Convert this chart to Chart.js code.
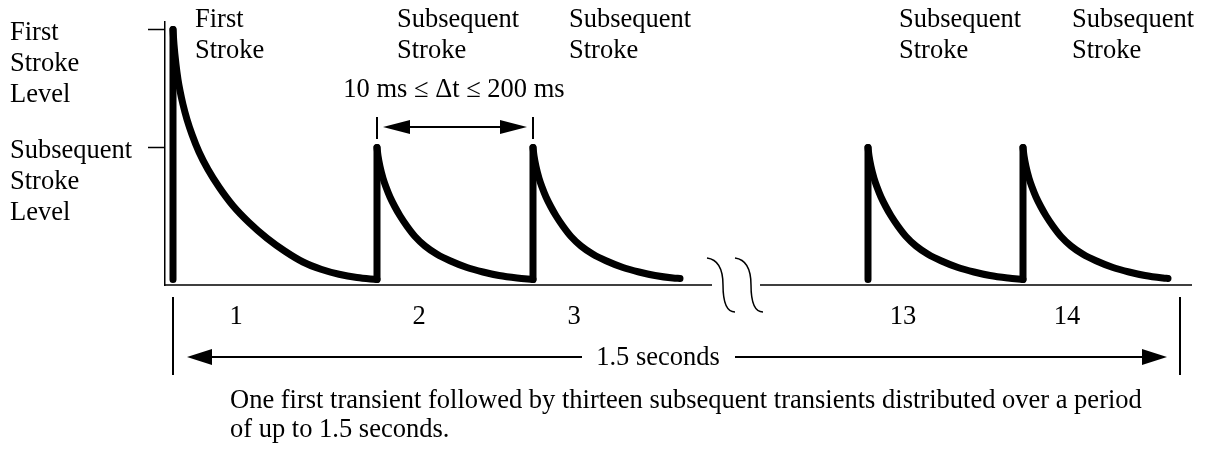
<!DOCTYPE html>
<html>
<head>
<meta charset="utf-8">
<script src="https://cdn.jsdelivr.net/npm/chart.js@4"></script>
<style>
  html, body { margin: 0; padding: 0; background: #fff; }
</style>
</head>
<body>
<canvas id="strokeChart" width="1208" height="449"></canvas>
<script>
// Lightning stroke train (time in arbitrary diagram units, amplitude relative to first stroke)
const strokeNumbers = ['1', '2', '3', '13', '14'];
const strokeLabelPos = [71, 254, 409, 738, 902];
const onsets = [8, 212, 368, 703, 858];
const peaks = [1.0, 0.528, 0.528, 0.528, 0.528];

const levelValues = [1.0, 0.528];
const levelLabels = [['First', 'Stroke', 'Level'], ['Subsequent', 'Stroke', 'Level']];

// decay tails
const decay1X = [8, 9, 11, 13, 15, 18, 22, 27, 34, 43, 54, 68, 84, 102, 120, 138, 156, 174, 192, 212];
const decay1Y = [1.0, 0.94, 0.86, 0.80, 0.755, 0.70, 0.64, 0.58, 0.51, 0.44, 0.37, 0.295, 0.228, 0.165, 0.113, 0.07, 0.041, 0.021, 0.008, 0];
const decay2X = [212, 213, 215, 218, 221, 225, 230, 235, 242, 250, 260, 272, 285, 302, 318, 334, 352, 368];
const decay2Y = [0.528, 0.495, 0.452, 0.405, 0.37, 0.33, 0.29, 0.255, 0.213, 0.172, 0.134, 0.101, 0.075, 0.048, 0.03, 0.016, 0.006, 0];
const decay3X = [368, 369, 371, 374, 377, 381, 386, 391, 398, 406, 416, 428, 441, 458, 474, 490, 508, 515];
const decay3Y = [0.528, 0.495, 0.452, 0.405, 0.37, 0.33, 0.29, 0.255, 0.213, 0.172, 0.134, 0.101, 0.075, 0.048, 0.03, 0.016, 0.006, 0.004];
const decay13X = [703, 704, 706, 709, 712, 716, 721, 726, 733, 741, 751, 763, 776, 793, 809, 825, 843, 858];
const decay13Y = [0.528, 0.495, 0.452, 0.405, 0.37, 0.33, 0.29, 0.255, 0.213, 0.172, 0.134, 0.101, 0.075, 0.048, 0.03, 0.016, 0.006, 0];
const decay14X = [858, 859, 861, 864, 867, 871, 876, 881, 888, 896, 906, 918, 931, 948, 964, 980, 998, 1003];
const decay14Y = [0.528, 0.495, 0.452, 0.405, 0.37, 0.33, 0.29, 0.255, 0.213, 0.172, 0.134, 0.101, 0.075, 0.048, 0.03, 0.016, 0.006, 0.004];

const axisBreak = [547, 595];
const periodEnd = 1015;

const FONT = '"Liberation Serif", "Times New Roman", serif';
const FSIZE = 26.5;

function toPoints(xs, ys) {
  return xs.map((x, i) => ({ x: x, y: ys[i] }));
}

const risePoints = [];
onsets.forEach((x, i) => {
  risePoints.push({ x: x, y: 0 }, { x: x, y: peaks[i] }, { x: x, y: null });
});

const lineStyle = {
  borderColor: '#000',
  borderWidth: 7,
  borderCapStyle: 'round',
  borderJoinStyle: 'round',
  pointRadius: 0,
  fill: false
};

const decays = [[decay1X, decay1Y], [decay2X, decay2Y], [decay3X, decay3Y], [decay13X, decay13Y], [decay14X, decay14Y]];

const datasets = [
  Object.assign({ label: 'rise', data: risePoints, tension: 0, spanGaps: false }, lineStyle)
];
decays.forEach((d, i) => {
  datasets.push(Object.assign({
    label: 'Stroke ' + strokeNumbers[i],
    data: toPoints(d[0], d[1]),
    cubicInterpolationMode: 'monotone'
  }, lineStyle));
});

function text(ctx, s, x, y, align) {
  ctx.textAlign = align || 'left';
  ctx.fillText(s, x, y);
}

function arrowHead(ctx, tipX, y, dir, len, half) {
  ctx.beginPath();
  ctx.moveTo(tipX, y);
  ctx.lineTo(tipX - dir * len, y - half);
  ctx.lineTo(tipX - dir * len, y + half);
  ctx.closePath();
  ctx.fill();
}

function noEdgePadding(scale) {
  scale.paddingTop = 0;
  scale.paddingBottom = 0;
  scale.paddingLeft = 0;
  scale.paddingRight = 0;
}

const diagramParts = {
  id: 'diagramParts',
  beforeDatasetsDraw(chart) {
    const ctx = chart.ctx;
    const xs = chart.scales.x;
    const area = chart.chartArea;
    const b0 = xs.getPixelForValue(axisBreak[0]);
    const b1 = xs.getPixelForValue(axisBreak[1]);
    ctx.save();
    ctx.strokeStyle = '#000';
    ctx.lineWidth = 1.5;
    // broken time axis
    ctx.beginPath();
    ctx.moveTo(area.left, area.bottom);
    ctx.lineTo(b0, area.bottom);
    ctx.moveTo(b1, area.bottom);
    ctx.lineTo(area.right, area.bottom);
    ctx.stroke();
    // break marks
    [b0 - 5, b0 + 23].forEach(sx => {
      ctx.beginPath();
      ctx.moveTo(sx, area.bottom - 27);
      ctx.bezierCurveTo(sx + 15, area.bottom - 25, sx + 16, area.bottom - 8, sx + 16, area.bottom);
      ctx.bezierCurveTo(sx + 16, area.bottom + 15, sx + 19, area.bottom + 27, sx + 28, area.bottom + 27);
      ctx.stroke();
    });
    ctx.restore();
  },
  afterDraw(chart) {
    const ctx = chart.ctx;
    const xs = chart.scales.x;
    ctx.save();
    ctx.fillStyle = '#000';
    ctx.strokeStyle = '#000';
    ctx.font = FSIZE + 'px ' + FONT;
    ctx.textBaseline = 'alphabetic';

    // stroke captions above the peaks
    const tops = [[195, 'First'], [397, 'Subsequent'], [569, 'Subsequent'], [899, 'Subsequent'], [1072, 'Subsequent']];
    tops.forEach(t => {
      text(ctx, t[1], t[0], 27);
      text(ctx, 'Stroke', t[0], 58);
    });

    // interval between subsequent strokes
    const a = xs.getPixelForValue(onsets[1]);
    const c = xs.getPixelForValue(onsets[2]);
    ctx.lineWidth = 2;
    ctx.beginPath();
    ctx.moveTo(a, 117); ctx.lineTo(a, 139);
    ctx.moveTo(c, 117); ctx.lineTo(c, 139);
    ctx.moveTo(a + 20, 127); ctx.lineTo(c - 20, 127);
    ctx.stroke();
    arrowHead(ctx, a + 6, 127, -1, 27, 7);
    arrowHead(ctx, c - 6, 127, 1, 27, 7);
    text(ctx, '10 ms \u2264 \u0394t \u2264 200 ms', (a + c) / 2 - 1, 97, 'center');

    // 1.5 second span
    const l = xs.getPixelForValue(onsets[0]);
    const r = xs.getPixelForValue(periodEnd);
    ctx.beginPath();
    ctx.moveTo(l, 297); ctx.lineTo(l, 375);
    ctx.moveTo(r, 297); ctx.lineTo(r, 375);
    ctx.moveTo(l + 30, 357); ctx.lineTo(582, 357);
    ctx.moveTo(735, 357); ctx.lineTo(r - 30, 357);
    ctx.stroke();
    arrowHead(ctx, l + 14, 357, -1, 25, 8);
    arrowHead(ctx, r - 13, 357, 1, 25, 8);
    text(ctx, '1.5 seconds', 658, 365, 'center');

    // caption
    text(ctx, 'One first transient followed by thirteen subsequent transients distributed over a period', 230, 408);
    text(ctx, 'of up to 1.5 seconds.', 230, 437);
    ctx.restore();
  }
};

const chart = new Chart(document.getElementById('strokeChart'), {
  type: 'line',
  data: { datasets: datasets },
  options: {
    responsive: false,
    animation: false,
    layout: { padding: { left: 10, right: 16, top: 22, bottom: 0 } },
    plugins: { legend: { display: false }, tooltip: { enabled: false } },
    scales: {
      x: {
        type: 'linear',
        min: 0,
        max: 1027,
        afterFit(scale) { scale.height = 164; noEdgePadding(scale); },
        afterBuildTicks(scale) { scale.ticks = strokeLabelPos.map(v => ({ value: v })); },
        ticks: {
          autoSkip: false,
          maxRotation: 0,
          padding: 16,
          color: '#000',
          font: { family: FONT, size: FSIZE },
          callback: (v, i) => strokeNumbers[i]
        },
        grid: { display: false, drawTicks: false },
        border: { display: false }
      },
      y: {
        type: 'linear',
        min: -0.022,
        max: 1.03,
        afterFit(scale) { scale.width = 155; noEdgePadding(scale); },
        afterBuildTicks(scale) { scale.ticks = levelValues.map(v => ({ value: v })); },
        ticks: {
          crossAlign: 'far',
          labelOffset: 35,
          color: '#000',
          font: { family: FONT, size: FSIZE, lineHeight: 1.17 },
          callback: (v, i) => levelLabels[i]
        },
        grid: { drawOnChartArea: false, drawTicks: true, tickLength: 17, tickWidth: 1.5, tickColor: '#000' },
        border: { display: true, color: '#000', width: 1.5 }
      }
    }
  },
  plugins: [diagramParts]
});
</script>
</body>
</html>
